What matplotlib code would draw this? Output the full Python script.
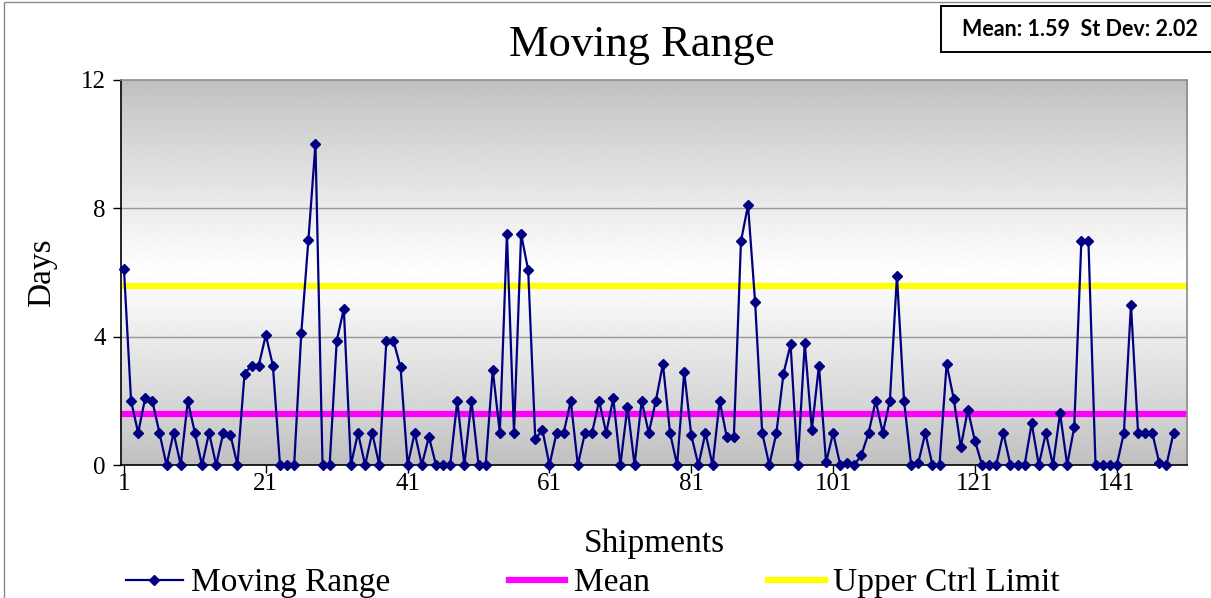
import matplotlib
matplotlib.use("Agg")
import matplotlib.pyplot as plt
import numpy as np
from matplotlib.patches import Rectangle
from matplotlib.lines import Line2D

# ---- data ----
moving_range = [
    6.1, 2.0, 1.0, 2.1, 2.0, 1.0, 0, 1.0, 0, 2.0,
    1.0, 0, 1.0, 0, 1.0, 0.95, 0, 2.85, 3.1, 3.1,
    4.05, 3.1, 0, 0, 0, 4.1, 7.0, 10.0, 0, 0,
    3.87, 4.87, 0, 1.0, 0, 1.0, 0, 3.87, 3.87, 3.05,
    0, 1.0, 0, 0.88, 0, 0, 0, 2.0, 0, 2.0,
    0, 0, 2.97, 1.0, 7.2, 1.0, 7.2, 6.07, 0.8, 1.1,
    0, 1.0, 1.0, 2.0, 0, 1.0, 1.0, 2.0, 1.0, 2.08,
    0, 1.82, 0, 2.0, 1.0, 2.0, 3.15, 1.0, 0, 2.9,
    0.92, 0, 1.0, 0, 2.0, 0.87, 0.87, 6.97, 8.1, 5.07,
    1.0, 0, 1.0, 2.85, 3.76, 0, 3.8, 1.1, 3.1, 0.08,
    1.0, 0, 0.06, 0, 0.32, 1.0, 2.0, 1.0, 2.0, 5.9,
    2.0, 0, 0.06, 1.0, 0, 0, 3.15, 2.07, 0.56, 1.72,
    0.75, 0, 0, 0, 1.0, 0, 0, 0, 1.3, 0,
    1.0, 0, 1.62, 0, 1.18, 6.97, 6.97, 0, 0, 0,
    0, 1.0, 5.0, 1.0, 1.0, 1.0, 0.06, 0, 1.0,
]
shipments = list(range(1, len(moving_range) + 1))
mean_value = 1.59
st_dev = 2.02
upper_ctrl_limit = 5.59
x_ticks = [1, 21, 41, 61, 81, 101, 121, 141]
y_ticks = [0, 4, 8, 12]

title = "Moving Range"
stats_text = "Mean: 1.59  St Dev: 2.02"

serif = ["Liberation Serif", "DejaVu Serif"]

W, H = 1211, 598
fig = plt.figure(figsize=(W / 100, H / 100), dpi=100)
fig.patch.set_facecolor("white")

# chart-area border (top and left visible)
fig.patches.append(Rectangle((4 / W, -0.01), 1.2, (598 - 2) / H + 0.01, transform=fig.transFigure,
                             fill=False, edgecolor="#8a8a8a", linewidth=1.0))

ax = fig.add_axes([121 / W, (H - 465) / H, (1187 - 121) / W, (465 - 80) / H])

xmin, xmax = 0.58, 150.9
ymin, ymax = 0, 12
ax.set_xlim(xmin, xmax)
ax.set_ylim(ymin, ymax)

# gradient background: gray at edges, white at middle
n = 256
t = np.linspace(0, 1, n)
lvl = 0.75 + 0.25 * (1 - np.abs(t - 0.5) * 2) ** 0.9
grad = np.repeat(lvl[:, None], 2, axis=1)
ax.imshow(grad, extent=[xmin, xmax, ymin, ymax], aspect="auto", cmap="gray",
          vmin=0, vmax=1, origin="upper", zorder=0, interpolation="bilinear")

for yv in [4, 8]:
    ax.axhline(yv, color="#999999", linewidth=1.0, zorder=1)

ax.axhline(mean_value, color="#FF00FF", linewidth=4.5, solid_capstyle="round", zorder=2)
ax.axhline(upper_ctrl_limit, color="#FFFF00", linewidth=4.5, solid_capstyle="round", zorder=2)

ax.plot(shipments, moving_range, color="#000080", linewidth=1.6, marker="D",
        markersize=5.5, markerfacecolor="#000080", markeredgecolor="#000080",
        zorder=3, clip_on=False)

for side in ["top", "right"]:
    ax.spines[side].set_color("#8c8c8c")
    ax.spines[side].set_linewidth(1.2)
for side in ["left", "bottom"]:
    ax.spines[side].set_color("black")
    ax.spines[side].set_linewidth(1.2)

ax.set_xticks(x_ticks)
ax.set_yticks(y_ticks)
ax.set_xticklabels([str(v) for v in x_ticks], fontfamily=serif, fontsize=18)
ax.set_yticklabels([str(v) for v in y_ticks], fontfamily=serif, fontsize=18)
ax.tick_params(axis="both", direction="out", length=6, width=1.0, color="black")
ax.tick_params(axis="y", pad=5)
ax.tick_params(axis="x", pad=0)

ax.set_xlabel("Shipments", fontfamily=serif, fontsize=24, labelpad=24)
ax.set_ylabel("Days", fontfamily=serif, fontsize=24, labelpad=17)

fig.text(642 / W, 1 - 45 / H, title, fontfamily=serif, fontsize=32,
         ha="center", va="center")

# stats box
fig.patches.append(Rectangle((941 / W, 1 - 52 / H), 0.3, 46 / H, transform=fig.transFigure,
                             fill=True, facecolor="white", edgecolor="black", linewidth=1.4))
fig.text(1080 / W, 1 - 30 / H, stats_text, fontfamily=["Lato", "DejaVu Sans"],
         fontweight="bold", fontsize=15.5, ha="center", va="center")

handles = [
    Line2D([], [], color="#000080", linewidth=1.6, marker="D", markersize=5.5),
    Line2D([], [], color="#FF00FF", linewidth=4.5),
    Line2D([], [], color="#FFFF00", linewidth=4.5),
]
labels = ["Moving Range", "Mean", "Upper Ctrl Limit"]
fig.legend(handles, labels, loc="center left", bbox_to_anchor=(126 / W, 1 - 583 / H),
           ncol=3, frameon=False, prop={"family": serif, "size": 24},
           handlelength=1.7, handletextpad=0.25, columnspacing=3.55, borderaxespad=0,
           borderpad=0)

fig.savefig("out.png", dpi=100, facecolor="white")
